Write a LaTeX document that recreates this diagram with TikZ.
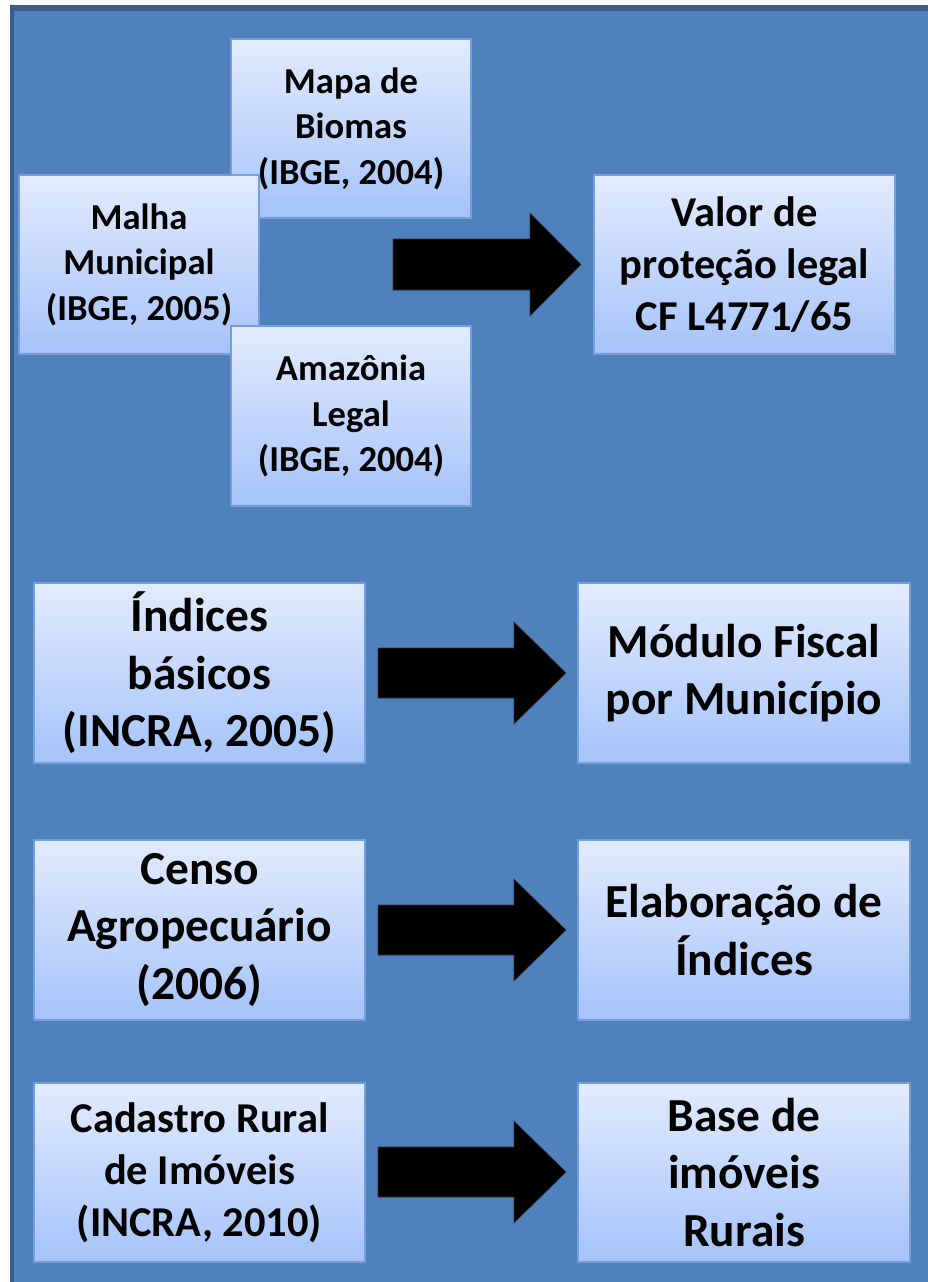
\documentclass[tikz,border=0pt]{standalone}
\usepackage{fontspec}
\setmainfont{Carlito}
\definecolor{panel}{RGB}{79,129,189}
\definecolor{paneldark}{RGB}{56,93,138}
\definecolor{boxtop}{RGB}{226,235,254}
\definecolor{boxbot}{RGB}{165,195,249}
\definecolor{boxline}{RGB}{120,158,218}
\begin{document}
\begin{tikzpicture}[x=1pt,y=-1pt,
  box/.style={rectangle, draw=boxline, line width=1.2pt, top color=boxtop, bottom color=boxbot,
    align=center, inner sep=0pt, font=\bfseries},
  fsmall/.style={font=\bfseries\fontsize{36.6}{45.5}\selectfont},
  fmid/.style={font=\bfseries\fontsize{42.5}{52}\selectfont},
  fbig/.style={font=\bfseries\fontsize{47.4}{57.5}\selectfont},
  blockarrow/.style={fill=black, draw=black!80, line width=0.6pt}]
\useasboundingbox (0,0) rectangle (928,1282);
\fill[white] (0,0) rectangle (928,1282);
\fill[panel] (10,5) rectangle (928,1282);
\fill[paneldark] (10,5) rectangle (928,11);
\fill[paneldark] (10,5) rectangle (13.5,1282);

% top group
\node[box, fsmall, minimum width=240pt, minimum height=179pt] (mapa) at (351,128.5) {Mapa de\\Biomas\\(IBGE, 2004)};
\node[box, fsmall, minimum width=240pt, minimum height=179pt] (malha) at (139,264.5) {Malha\\Municipal\\(IBGE, 2005)};
\node[box, fsmall, minimum width=240pt, minimum height=180pt] (amaz) at (351,416) {Amazônia\\Legal\\(IBGE, 2004)};
\node[box, fmid, minimum width=301pt, minimum height=179pt] (valor) at (744.5,264.5) {Valor de\\proteção legal\\CF L4771/65};

% row 2
\node[box, fbig, minimum width=331pt, minimum height=180pt] (indices) at (199.5,673) {Índices\\básicos\\(INCRA, 2005)};
\node[box, fbig, minimum width=332pt, minimum height=180pt] (modulo) at (744,673) {Módulo Fiscal\\por Município};

% row 3
\node[box, fbig, minimum width=331pt, minimum height=180pt] (censo) at (199.5,930) {Censo\\Agropecuário\\(2006)};
\node[box, fbig, minimum width=332pt, minimum height=180pt] (elab) at (744,930) {Elaboração de\\Índices};

% row 4
\node[box, fmid, minimum width=331pt, minimum height=179pt] (cad) at (199.5,1172.5) {Cadastro Rural\\de Imóveis\\(INCRA, 2010)};
\node[box, fbig, minimum width=332pt, minimum height=179pt] (base) at (744,1172.5) {Base de\\imóveis\\Rurais};

% block arrows
\draw[blockarrow] (393,239) -- (530,239) -- (530,213) -- (581,264.5) -- (530,316) -- (530,290) -- (393,290) -- cycle;
\draw[blockarrow] (378,648) -- (514,648) -- (514,622) -- (566,673) -- (514,724) -- (514,698) -- (378,698) -- cycle;
\draw[blockarrow] (378,905) -- (514,905) -- (514,879) -- (566,930) -- (514,981) -- (514,955) -- (378,955) -- cycle;
\draw[blockarrow] (378,1147) -- (514,1147) -- (514,1121) -- (566,1172) -- (514,1223) -- (514,1197) -- (378,1197) -- cycle;
\end{tikzpicture}
\end{document}
